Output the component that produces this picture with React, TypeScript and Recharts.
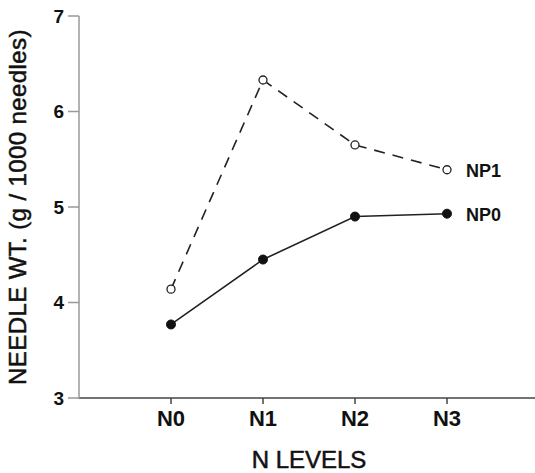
import { LineChart, Line, XAxis, YAxis, Label } from 'recharts';

const levels = ['N0', 'N1', 'N2', 'N3'];
const np1 = [4.14, 6.33, 5.65, 5.39];
const np0 = [3.77, 4.45, 4.9, 4.93];
const yTicks = [3, 4, 5, 6, 7];

const data = levels.map((name, i) => ({ x: i, name, np1: np1[i], np0: np0[i] }));

const FONT = '"Liberation Sans", Arial, sans-serif';

// series name written just right of the last point
const endLabel = (text: string) => (props: any) => {
  const { x, y, index } = props;
  if (index !== levels.length - 1) return null;
  return (
    <text x={x + 19} y={y} dy={7} fontFamily={FONT} fontWeight="bold" fontSize={18} fill="#111">
      {text}
    </text>
  );
};

export default function App() {
  return (
    <div style={{ position: 'absolute', left: 0, top: 0, width: 535, height: 473, overflow: 'hidden', background: '#fff' }}>
      <LineChart width={539} height={473} data={data} margin={{ top: 16, right: 0, left: 0, bottom: 0 }}>
        <XAxis
          dataKey="x"
          type="number"
          domain={[-1, 4]}
          ticks={[0, 1, 2, 3]}
          tickFormatter={(v: number) => levels[v]}
          height={75}
          stroke="#444"
          strokeWidth={1.5}
          tickSize={6}
          tickMargin={6}
          tick={{ fontFamily: FONT, fontWeight: 'bold', fontSize: 22, fill: '#111' }}
        >
          <Label
            value="N LEVELS"
            position="insideBottom"
            offset={5}
            fontFamily={FONT}
            fontSize={24}
            fill="#111"
            stroke="#111"
            strokeWidth={0.5}
          />
        </XAxis>
        <YAxis
          type="number"
          domain={[3, 7]}
          ticks={yTicks}
          width={79}
          stroke="#999"
          strokeWidth={1.5}
          tickSize={11}
          tickMargin={4}
          tick={{ fontFamily: FONT, fontWeight: 'bold', fontSize: 19, fill: '#111' }}
        >
          <Label
            value="NEEDLE WT. (g / 1000 needles)"
            angle={-90}
            position="insideLeft"
            offset={0}
            dx={17}
            fontFamily={FONT}
            fontSize={24}
            fill="#111"
            stroke="#111"
            strokeWidth={0.5}
            style={{ textAnchor: 'middle', letterSpacing: 0.4 }}
          />
        </YAxis>
        <Line
          dataKey="np1"
          stroke="#222"
          strokeWidth={1.6}
          strokeDasharray="11 8"
          dot={{ r: 4, fill: '#fff', stroke: '#222', strokeWidth: 1.3, strokeDasharray: '' }}
          label={endLabel('NP1')}
          isAnimationActive={false}
        />
        <Line
          dataKey="np0"
          stroke="#222"
          strokeWidth={1.6}
          dot={{ r: 4.5, fill: '#111', stroke: '#111', strokeWidth: 1 }}
          label={endLabel('NP0')}
          isAnimationActive={false}
        />
      </LineChart>
    </div>
  );
}
